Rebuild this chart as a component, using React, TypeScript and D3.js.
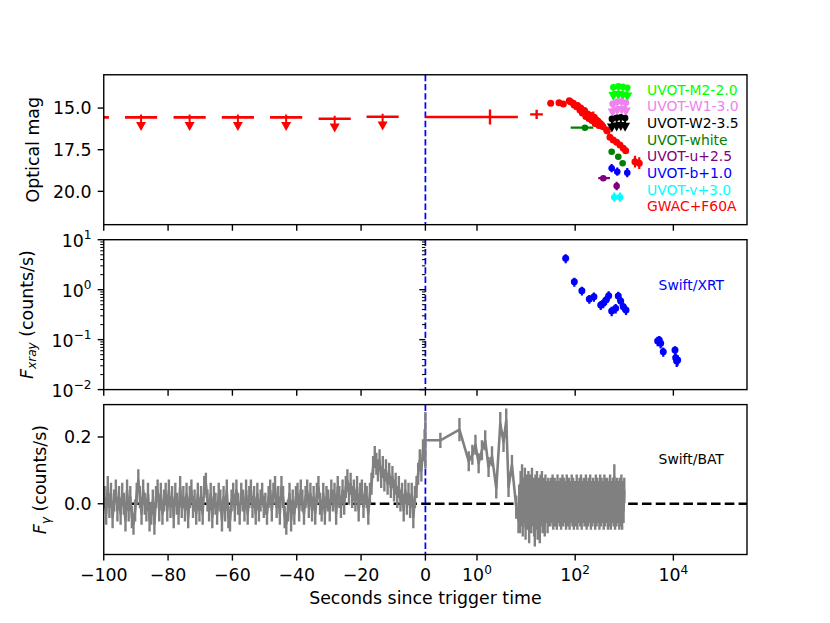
import React from "react";
import * as d3 from "d3";

// ---------------- ticks ----------------
const xTicksNeg = [-100, -80, -60, -40, -20];
const xTickLabelsNeg = ["−100", "−80", "−60", "−40", "−20"];
const xTicksPos = [0, 1, 100, 10000];
const xTickExpPos = ["", "0", "2", "4"];
const magTicks = [15, 17.5, 20];
const magTickLabels = ["15.0", "17.5", "20.0"];
const xrayTicks = [10, 1, 0.1, 0.01];
const xrayTickExp = ["1", "0", "−1", "−2"];
const batTicks = [0, 0.2];
const batTickLabels = ["0.0", "0.2"];

// ---------------- optical panel ----------------
// pre-trigger GWAC upper limits
const preLimT = [-103.4, -88.4, -73.3, -58.3, -43.3, -28.2, -13.3];
const preLimMag = [15.56, 15.56, 15.56, 15.56, 15.56, 15.64, 15.52];
const preLimHalf = [5, 5, 5, 5, 5, 5, 5];

// early GWAC detections with wide time bins
const gwacEarlyT = [1.84, 16.4];
const gwacEarlyTLo = [0, 12.1];
const gwacEarlyTHi = [6.8, 22];
const gwacEarlyMag = [15.54, 15.38];
const gwacEarlyErr = [0.45, 0.28];

// GWAC+F60A detections
const gwacT = [31.7, 46.8, 57.3, 75.9, 80, 91.5, 95, 107, 112, 125, 130, 140, 146, 155, 165, 171, 180, 190, 200, 210, 220, 234, 245, 255, 265, 274, 290, 305, 320, 345, 370, 438, 450, 511, 597, 700, 817, 955, 1069, 1652, 2019];
const gwacMag = [14.71, 14.68, 14.76, 14.56, 14.62, 14.71, 14.82, 14.92, 14.85, 15.12, 15.0, 15.3, 15.22, 15.15, 15.5, 15.42, 15.35, 15.62, 15.52, 15.45, 15.75, 15.61, 15.55, 15.92, 15.7, 15.82, 15.78, 16.05, 15.91, 16.0, 16.12, 16.32, 16.38, 16.75, 16.92, 17.05, 17.21, 17.41, 17.56, 18.22, 18.31];
const gwacErr = [0.15, 0.12, 0.12, 0.12, 0.1, 0.1, 0.1, 0.12, 0.12, 0.12, 0.15, 0.15, 0.12, 0.15, 0.15, 0.15, 0.15, 0.15, 0.15, 0.15, 0.2, 0.4, 0.2, 0.2, 0.2, 0.2, 0.2, 0.2, 0.2, 0.2, 0.2, 0.15, 0.15, 0.12, 0.12, 0.12, 0.12, 0.12, 0.12, 0.35, 0.35];
const gwacTErr = [4, 5, 5, 6, 4, 5, 4, 6, 5, 6, 5, 6, 6, 6, 6, 6, 6, 6, 6, 6, 6, 8, 6, 8, 8, 8, 8, 10, 10, 10, 12, 15, 15, 15, 15, 15, 15, 15, 15, 30, 30];

// UVOT detections
const whiteT = [158, 554, 755, 927];
const whiteTLo = [81, 554, 755, 927];
const whiteTHi = [234, 554, 755, 927];
const whiteMag = [16.18, 17.62, 17.92, 18.31];
const whiteErr = [0.08, 0.12, 0.12, 0.12];

const uT = [374, 700];
const uTLo = [295, 700];
const uTHi = [511, 700];
const uMag = [19.21, 19.68];
const uErr = [0.08, 0.25];

const bT = [554, 720, 1151];
const bMag = [18.61, 18.82, 18.88];
const bErr = [0.25, 0.25, 0.28];

const vT = [626, 817];
const vMag = [20.35, 20.35];
const vErr = [0.28, 0.28];

// UVOT upper limits
const m2T = [600, 760, 930, 1150];
const m2Mag = [13.75, 13.7, 13.72, 13.78];
const w1T = [580, 720, 880, 1080];
const w1Mag = [14.75, 14.62, 14.6, 14.68];
const w2T = [560, 700, 850, 1040];
const w2Mag = [15.65, 15.58, 15.55, 15.6];

const legendLabels = ["UVOT-M2-2.0", "UVOT-W1-3.0", "UVOT-W2-3.5", "UVOT-white", "UVOT-u+2.5", "UVOT-b+1.0", "UVOT-v+3.0", "GWAC+F60A"];
const legendColors = ["#00ff00", "#ee82ee", "#000000", "#008000", "#800080", "#0000ff", "#00ffff", "#ff0000"];
const legendMag = [14, 15, 16, 17, 18, 19, 20, 21];

// ---------------- X-ray panel ----------------
const xrtT = [64, 96, 137, 194, 241, 331, 373, 424, 481, 554, 668, 755, 845, 955, 1084, 4786, 5164, 5513, 6228, 10790, 11150, 11670, 12240];
const xrtRate = [4.24, 1.44, 0.953, 0.65, 0.723, 0.493, 0.533, 0.621, 0.757, 0.374, 0.424, 0.747, 0.593, 0.456, 0.392, 0.094, 0.098, 0.0845, 0.0573, 0.062, 0.0435, 0.0373, 0.039];
const xrtRateErr = [0.85, 0.3, 0.19, 0.13, 0.15, 0.1, 0.11, 0.13, 0.17, 0.08, 0.09, 0.16, 0.12, 0.09, 0.08, 0.02, 0.02, 0.018, 0.012, 0.012, 0.01, 0.009, 0.009];
const xrtTErr = [7, 9, 12, 15, 15, 20, 15, 15, 20, 20, 25, 25, 25, 30, 40, 200, 200, 200, 250, 300, 300, 300, 300];

// ---------------- BAT panel ----------------
// 0.5-s bins from -100 to 0 s
const batPreRate = [
  0.02, -0.03, 0.05, -0.01, 0.03, -0.04, 0.01, 0.04, -0.02, 0.02,
  -0.03, 0.03, 0.0, -0.05, 0.04, -0.02, 0.02, -0.04, -0.06, -0.02,
  0.03, 0.07, 0.02, -0.03, 0.04, 0.0, -0.02, 0.03, -0.05, -0.03,
  0.01, -0.06, 0.02, 0.04, -0.02, 0.03, -0.03, 0.01, 0.03, -0.02,
  0.04, -0.01, 0.02, -0.04, 0.03, 0.0, -0.03, 0.05, -0.01, 0.02,
  -0.02, 0.03, -0.04, 0.02, 0.04, -0.01, 0.01, -0.03, 0.03, -0.02,
  0.02, -0.03, 0.05, 0.06, 0.01, -0.02, 0.03, -0.04, 0.02, 0.0,
  -0.03, 0.03, 0.01, -0.05, 0.02, -0.02, 0.04, -0.04, -0.05, 0.01,
  0.03, -0.02, 0.04, 0.0, -0.03, 0.03, 0.01, -0.02, 0.04, -0.03,
  0.02, 0.04, -0.01, 0.02, -0.03, 0.03, -0.02, 0.01, 0.03, -0.01,
  0.0, -0.03, 0.02, 0.04, -0.02, 0.03, 0.05, -0.01, 0.02, -0.03,
  0.05, 0.02, -0.04, -0.06, -0.02, 0.03, -0.05, 0.01, -0.03, 0.02,
  0.03, -0.02, 0.04, 0.01, -0.03, 0.02, 0.04, -0.01, 0.03, -0.02,
  0.02, -0.03, 0.03, 0.05, 0.0, -0.02, 0.03, -0.03, 0.02, 0.01,
  -0.02, 0.04, 0.01, 0.03, -0.03, 0.05, 0.02, -0.01, 0.04, 0.0,
  0.05, 0.07, 0.03, 0.06, 0.02, 0.04, 0.01, 0.05, -0.02, 0.03,
  0.04, -0.01, 0.03, 0.02, -0.03, 0.03, 0.06, 0.11, 0.14, 0.12,
  0.1, 0.13, 0.08, 0.11, 0.07, 0.1, 0.06, 0.09, 0.05, 0.08,
  0.04, 0.06, 0.02, 0.05, 0.01, 0.03, -0.02, 0.04, 0.0, 0.03,
  -0.01, 0.03, -0.04, 0.02, 0.05, 0.09, 0.13, 0.1, 0.16, 0.19,
];
const batPreErr = 0.033;
const batPreBinStart = -99.75;
const batPreBinWidth = 0.5;

const batEarlyT = [0, 0.29, 0.66, 0.84, 0.91, 0.97, 1.08, 1.26, 1.47, 1.72, 2.02, 2.47, 2.98, 3.47, 3.94, 4.39, 5.15, 6.3];
const batEarlyRate = [0.19, 0.19, 0.222, 0.127, 0.147, 0.177, 0.121, 0.16, 0.19, 0.11, 0.142, 0.046, 0.24, 0.185, 0.25, 0.05, 0.116, -0.01];
const batEarlyErr = [0.085, 0.023, 0.035, 0.03, 0.03, 0.03, 0.03, 0.03, 0.03, 0.03, 0.03, 0.03, 0.035, 0.03, 0.035, 0.03, 0.03, 0.035];

// log-spaced bins from 7 s to 1000 s
const batLateRate = [
  -0.05, 0.02, -0.05, 0.06, -0.03, 0.08, -0.06, 0.04, -0.02, 0.07, -0.07, 0.03, 0.05, -0.04, 0.06, -0.08, 0.02, 0.05, -0.05, 0.07, -0.03, 0.04, -0.06,
  -0.09, 0.05, -0.04, 0.06, -0.07, 0.03, 0.04, -0.08, 0.05, -0.03, 0.06, -0.05, 0.02, 0.04, -0.06, 0.05, -0.02, 0.03, -0.05, 0.04, -0.03,
  0.03, -0.03, 0.04, -0.02, 0.05, -0.04, 0.02, 0.04, -0.03, 0.03, -0.04, 0.05, -0.02, 0.03, -0.03, 0.04, -0.04, 0.02, 0.05, -0.03,
  0.04, -0.02, 0.03, -0.04, 0.05, -0.03, 0.02, 0.04, -0.04, 0.03, -0.02, 0.05, -0.03, 0.04, -0.04, 0.03, 0.02, -0.03, 0.05, -0.04,
  0.03, -0.02, 0.04, -0.03, 0.05, -0.04, 0.03, -0.02, 0.04, -0.03, 0.02, 0.05, -0.04, 0.03, -0.03, 0.04, -0.02, 0.05, -0.04, 0.03,
  -0.03, 0.04, -0.02, 0.03, -0.04, 0.05, -0.03, 0.04, -0.02, 0.03, -0.04, 0.05, -0.03, 0.04, -0.02, 0.03, -0.04, 0.05, -0.03, 0.04,
  -0.02, 0.04, -0.04, 0.03, -0.03, 0.05, -0.04, 0.03, -0.02, 0.04, -0.03, 0.08, -0.04, 0.03, -0.03, 0.04, -0.02, 0.03, -0.04, 0.04,
  -0.03, 0.05, -0.04, 0.03, -0.02, 0.04,
];
const batLateErr = 0.038;
const batLateStart = 7;
const batLateEnd = 1000;

// ---------------- layout ----------------
const W = 830;
const H = 623;
const L = 103.75;
const R = 747;
const M = 425.4;
const PH = 149.9;
const tops = [74.76, 239.7, 404.6];
const FONT = "DejaVu Sans";
const TFS = 17.36;
const AFS = 13.9;

const xNeg = d3.scaleLinear().domain([-100, 0]).range([L, M]);
const xLin = d3.scaleLinear().domain([0, 1]).range([M, M + 51.6]);
const xLog = d3.scaleLog().domain([1, Math.pow(10, 5.5)]).range([M + 51.6, R]);
const X = (t: number) => (t < 0 ? xNeg(t) : t <= 1 ? xLin(t) : xLog(t));

const yMag = d3.scaleLinear().domain([13, 22]).range([tops[0], tops[0] + PH]);
const yX = d3.scaleLog().domain([0.01, 10]).range([tops[1] + PH, tops[1]]);
const yB = d3.scaleLinear().domain([-0.152, 0.297]).range([tops[2] + PH, tops[2]]);

const seg = (s: number[][]) => s.map((a) => `M${a[0]},${a[1]}L${a[2]},${a[3]}`).join("");

function Arrow({ cx, cy, color, stub }: { cx: number; cy: number; color: string; stub?: boolean }) {
  return (
    <g>
      <line x1={cx} y1={stub ? cy - 3 : cy} x2={cx} y2={cy + 9} stroke={color} strokeWidth={2} />
      <path d={`M${cx - 5},${cy + 4.7}L${cx + 5},${cy + 4.7}L${cx},${cy + 13.7}Z`} fill={color} />
    </g>
  );
}

export default function App() {
  const bottoms = tops.map((t) => t + PH);

  // BAT series
  const batPre = batPreRate.map((v, i) => [batPreBinStart + i * batPreBinWidth, v]);
  const nLate = batLateRate.length;
  const batLate = batLateRate.map((v, i) => [
    batLateStart * Math.pow(batLateEnd / batLateStart, i / (nLate - 1)),
    v,
  ]);
  const batEarly = batEarlyT.map((t, i) => [t, batEarlyRate[i]]);
  const batPost = [...batEarly, ...batLate];
  const line = d3
    .line<number[]>()
    .x((d) => X(d[0]))
    .y((d) => yB(d[1]));

  const batErrSegs: number[][] = [];
  batPre.forEach(([t, v]) => {
    batErrSegs.push([X(t), yB(v - batPreErr), X(t), yB(v + batPreErr)]);
    batErrSegs.push([X(t - batPreBinWidth / 2), yB(v), X(t + batPreBinWidth / 2), yB(v)]);
  });
  batEarly.forEach(([t, v], i) => {
    batErrSegs.push([X(t), yB(v - batEarlyErr[i]), X(t), yB(v + batEarlyErr[i])]);
  });
  batLate.forEach(([t, v]) => {
    batErrSegs.push([X(t), yB(v - batLateErr), X(t), yB(v + batLateErr)]);
  });

  // xray minor ticks
  const minorX: number[] = [];
  [0.01, 0.1, 1].forEach((d) => {
    for (let m = 2; m <= 9; m++) minorX.push(m * d);
  });

  const xTickLines = (bottom: number) => (
    <g stroke="#000" strokeWidth={1.39}>
      {[...xTicksNeg.map((t) => X(t)), ...xTicksPos.map((t) => X(t))].map((px, i) => (
        <line key={i} x1={px} x2={px} y1={bottom} y2={bottom + 6.08} />
      ))}
    </g>
  );

  const clipIds = ["c0", "c1", "c2"];

  return (
    <svg
      width={W}
      height={H}
      viewBox={`0 0 ${W} ${H}`}
      style={{ display: "block", position: "absolute", left: 0, top: 0 }}
      fontFamily={FONT}
    >
      <rect x={0} y={0} width={W} height={H} fill="#fff" />
      <defs>
        {tops.map((t, i) => (
          <clipPath id={clipIds[i]} key={i}>
            <rect x={L} y={t} width={R - L} height={PH} />
          </clipPath>
        ))}
      </defs>

      {/* ============ panel 1: optical ============ */}
      <g clipPath="url(#c0)">
        <line x1={M} x2={M} y1={tops[0]} y2={bottoms[0]} stroke="#0000ff" strokeWidth={1.74} strokeDasharray="6.4,2.8" />
        {preLimT.map((t, i) => (
          <g key={i}>
            <line x1={X(t - preLimHalf[i])} x2={X(t + preLimHalf[i])} y1={yMag(preLimMag[i])} y2={yMag(preLimMag[i])} stroke="#ff0000" strokeWidth={2.6} />
            <Arrow cx={X(t)} cy={yMag(preLimMag[i])} color="#ff0000" stub />
          </g>
        ))}
        {gwacEarlyT.map((t, i) => (
          <path
            key={i}
            d={seg([
              [X(gwacEarlyTLo[i]), yMag(gwacEarlyMag[i]), X(gwacEarlyTHi[i]), yMag(gwacEarlyMag[i])],
              [X(t), yMag(gwacEarlyMag[i] - gwacEarlyErr[i]), X(t), yMag(gwacEarlyMag[i] + gwacEarlyErr[i])],
            ])}
            stroke="#ff0000"
            strokeWidth={2.4}
            fill="none"
          />
        ))}
        {gwacT.map((t, i) => (
          <g key={i}>
            <path
              d={seg([
                [X(t - gwacTErr[i]), yMag(gwacMag[i]), X(t + gwacTErr[i]), yMag(gwacMag[i])],
                [X(t), yMag(gwacMag[i] - gwacErr[i]), X(t), yMag(gwacMag[i] + gwacErr[i])],
              ])}
              stroke="#ff0000"
              strokeWidth={2.2}
            />
            <circle cx={X(t)} cy={yMag(gwacMag[i])} r={3.5} fill="#ff0000" />
          </g>
        ))}
        {whiteT.map((t, i) => (
          <g key={"w" + i}>
            <path
              d={seg([
                [X(whiteTLo[i]), yMag(whiteMag[i]), X(whiteTHi[i]), yMag(whiteMag[i])],
                [X(t), yMag(whiteMag[i] - whiteErr[i]), X(t), yMag(whiteMag[i] + whiteErr[i])],
              ])}
              stroke="#008000"
              strokeWidth={2.2}
            />
            <circle cx={X(t)} cy={yMag(whiteMag[i])} r={3.3} fill="#008000" />
          </g>
        ))}
        {uT.map((t, i) => (
          <g key={"u" + i}>
            <path
              d={seg([
                [X(uTLo[i]), yMag(uMag[i]), X(uTHi[i]), yMag(uMag[i])],
                [X(t), yMag(uMag[i] - uErr[i]), X(t), yMag(uMag[i] + uErr[i])],
              ])}
              stroke="#800080"
              strokeWidth={2.2}
            />
            <circle cx={X(t)} cy={yMag(uMag[i])} r={3.3} fill="#800080" />
          </g>
        ))}
        {bT.map((t, i) => (
          <g key={"b" + i}>
            <line x1={X(t)} x2={X(t)} y1={yMag(bMag[i] - bErr[i])} y2={yMag(bMag[i] + bErr[i])} stroke="#0000ff" strokeWidth={2.2} />
            <circle cx={X(t)} cy={yMag(bMag[i])} r={3.3} fill="#0000ff" />
          </g>
        ))}
        {vT.map((t, i) => (
          <g key={"v" + i}>
            <line x1={X(t)} x2={X(t)} y1={yMag(vMag[i] - vErr[i])} y2={yMag(vMag[i] + vErr[i])} stroke="#00ffff" strokeWidth={2.2} />
            <circle cx={X(t)} cy={yMag(vMag[i])} r={3.3} fill="#00ffff" />
          </g>
        ))}
        {[
          { t: m2T, m: m2Mag, c: "#00ff00" },
          { t: w1T, m: w1Mag, c: "#ee82ee" },
          { t: w2T, m: w2Mag, c: "#000000" },
        ].map((s, si) =>
          s.t.map((t, i) => (
            <g key={si + "-" + i}>
              <Arrow cx={X(t)} cy={yMag(s.m[i])} color={s.c} />
              <circle cx={X(t)} cy={yMag(s.m[i])} r={3.3} fill={s.c} />
            </g>
          ))
        )}
      </g>
      {legendLabels.map((lab, i) => (
        <text key={lab} x={X(2900)} y={yMag(legendMag[i]) + 3.2} fontSize={AFS} fill={legendColors[i]}>
          {lab}
        </text>
      ))}
      <rect x={L} y={tops[0]} width={R - L} height={PH} fill="none" stroke="#000" strokeWidth={1.39} />
      {xTickLines(bottoms[0])}
      {magTicks.map((m, i) => (
        <g key={m}>
          <line x1={L - 6.08} x2={L} y1={yMag(m)} y2={yMag(m)} stroke="#000" strokeWidth={1.39} />
          <text x={L - 12.2} y={yMag(m) + 6.3} fontSize={TFS} textAnchor="end">
            {magTickLabels[i]}
          </text>
        </g>
      ))}
      <text transform={`translate(39.3,${tops[0] + PH / 2}) rotate(-90)`} fontSize={TFS} textAnchor="middle">
        Optical mag
      </text>

      {/* ============ panel 2: X-ray ============ */}
      <g clipPath="url(#c1)">
        <line x1={M} x2={M} y1={tops[1]} y2={bottoms[1]} stroke="#0000ff" strokeWidth={1.74} strokeDasharray="6.4,2.8" />
        {xrtT.map((t, i) => (
          <g key={i}>
            <path
              d={seg([
                [X(t - xrtTErr[i]), yX(xrtRate[i]), X(t + xrtTErr[i]), yX(xrtRate[i])],
                [X(t), yX(xrtRate[i] - xrtRateErr[i]), X(t), yX(xrtRate[i] + xrtRateErr[i])],
              ])}
              stroke="#0000ff"
              strokeWidth={2.2}
            />
            <circle cx={X(t)} cy={yX(xrtRate[i])} r={3.5} fill="#0000ff" />
          </g>
        ))}
      </g>
      <text x={X(5000)} y={yX(1)} fontSize={AFS} fill="#0000ff">
        Swift/XRT
      </text>
      <rect x={L} y={tops[1]} width={R - L} height={PH} fill="none" stroke="#000" strokeWidth={1.39} />
      {xTickLines(bottoms[1])}
      <g stroke="#000">
        {xrayTicks.map((v) => (
          <g key={v}>
            <line x1={L - 6.08} x2={L} y1={yX(v)} y2={yX(v)} strokeWidth={1.39} />
            <line x1={M - 6.08} x2={M} y1={yX(v)} y2={yX(v)} strokeWidth={1.39} />
          </g>
        ))}
        {minorX.map((v) => (
          <g key={"m" + v}>
            <line x1={L - 3.47} x2={L} y1={yX(v)} y2={yX(v)} strokeWidth={1.04} />
            <line x1={M - 3.47} x2={M} y1={yX(v)} y2={yX(v)} strokeWidth={1.04} />
          </g>
        ))}
      </g>
      {xrayTicks.map((v, i) => (
        <text key={v} x={L - 12.2} y={yX(v) + 7} fontSize={TFS} textAnchor="end">
          10
          <tspan fontSize={TFS * 0.7} dy={-7.5}>
            {xrayTickExp[i]}
          </tspan>
        </text>
      ))}
      <text transform={`translate(32.5,${tops[1] + PH / 2}) rotate(-90)`} fontSize={TFS} textAnchor="middle">
        <tspan fontStyle="italic">F</tspan>
        <tspan fontStyle="italic" fontSize={TFS * 0.7} dy={3.5}>
          xray
        </tspan>
        <tspan dy={-3.5}> (counts/s)</tspan>
      </text>

      {/* ============ panel 3: BAT ============ */}
      <g clipPath="url(#c2)">
        <line x1={L} x2={R} y1={yB(0)} y2={yB(0)} stroke="#000" strokeWidth={2.6} strokeDasharray="9.6,4.2" />
        <line x1={M} x2={M} y1={tops[2]} y2={bottoms[2]} stroke="#0000ff" strokeWidth={1.74} strokeDasharray="6.4,2.8" />
        <path d={seg(batErrSegs)} stroke="#808080" strokeWidth={2.4} fill="none" />
        <path d={line(batPre) || ""} stroke="#808080" strokeWidth={2.6} fill="none" strokeLinejoin="round" />
        <path d={line(batPost) || ""} stroke="#808080" strokeWidth={2.6} fill="none" strokeLinejoin="round" />
      </g>
      <text x={X(5000)} y={yB(0.12)} fontSize={AFS} fill="#000">
        Swift/BAT
      </text>
      <rect x={L} y={tops[2]} width={R - L} height={PH} fill="none" stroke="#000" strokeWidth={1.39} />
      {xTickLines(bottoms[2])}
      {batTicks.map((v, i) => (
        <g key={v}>
          <line x1={L - 6.08} x2={L} y1={yB(v)} y2={yB(v)} stroke="#000" strokeWidth={1.39} />
          <text x={L - 12.2} y={yB(v) + 6.3} fontSize={TFS} textAnchor="end">
            {batTickLabels[i]}
          </text>
        </g>
      ))}
      <text transform={`translate(46,${tops[2] + PH / 2}) rotate(-90)`} fontSize={TFS} textAnchor="middle">
        <tspan fontStyle="italic">F</tspan>
        <tspan fontStyle="italic" fontSize={TFS * 0.7} dy={3.5}>
          γ
        </tspan>
        <tspan dy={-3.5}> (counts/s)</tspan>
      </text>

      {xTicksNeg.map((t, i) => (
        <text key={t} x={X(t)} y={581.3} fontSize={TFS} textAnchor="middle">
          {xTickLabelsNeg[i]}
        </text>
      ))}
      {xTicksPos.map((t, i) =>
        xTickExpPos[i] === "" ? (
          <text key={t} x={X(t)} y={581.3} fontSize={TFS} textAnchor="middle">
            0
          </text>
        ) : (
          <text key={t} x={X(t)} y={581.3} fontSize={TFS} textAnchor="middle">
            10
            <tspan fontSize={TFS * 0.7} dy={-7.5}>
              {xTickExpPos[i]}
            </tspan>
          </text>
        )
      )}
      <text x={(L + R) / 2} y={604.4} fontSize={TFS} textAnchor="middle">
        Seconds since trigger time
      </text>
    </svg>
  );
}
